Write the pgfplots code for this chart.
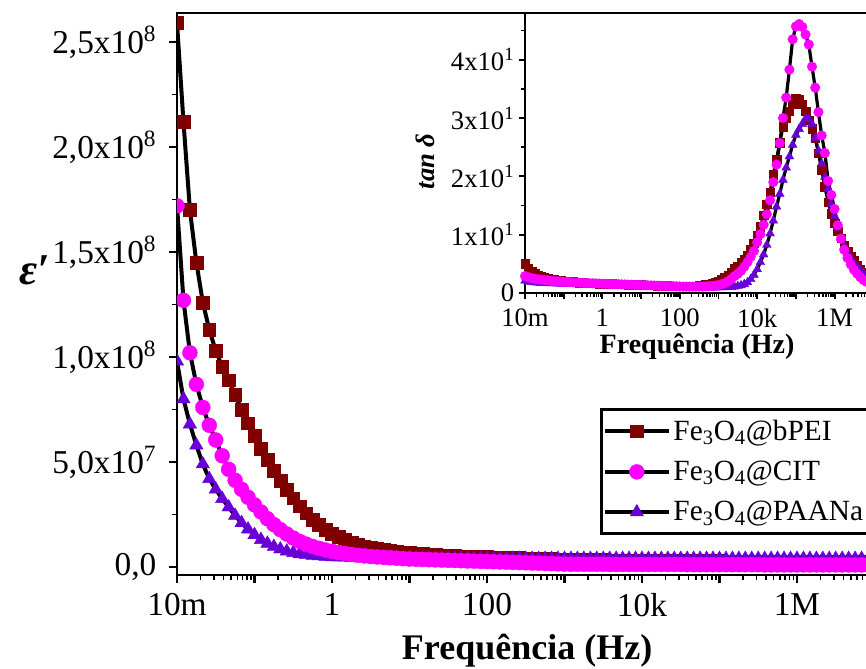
\documentclass[border=0pt]{standalone}
\usepackage{pgfplots}
\usepackage{pgfplotstable}
\pgfplotsset{compat=1.18}
\usepackage{fontspec}
\setmainfont{Liberation Serif}
\definecolor{cB}{RGB}{128,0,0}
\definecolor{cC}{RGB}{255,0,255}
\definecolor{cP}{RGB}{106,0,216}

\pgfplotstableread{
f eB eC eP tB tC tP
1.000e-2 2.59 1.72 0.98 5.0 2.9 2.1
1.212e-2 2.12 1.27 0.80 4.2 2.7 1.95
1.468e-2 1.70 1.02 0.68 3.7 2.55 1.85
1.778e-2 1.45 0.87 0.58 3.3 2.45 1.80
2.154e-2 1.26 0.76 0.49 3.0 2.35 1.76
2.610e-2 1.13 0.675 0.42 2.8 2.28 1.73
3.162e-2 1.03 0.605 0.37 2.65 2.22 1.70
3.831e-2 0.955 0.53 0.325 2.5 2.16 1.68
4.642e-2 0.89 0.465 0.285 2.4 2.10 1.66
5.623e-2 0.82 0.413 0.245 2.3 2.05 1.64
6.813e-2 0.75 0.37 0.21 2.2 2.00 1.62
8.254e-2 0.685 0.332 0.18 2.1 1.96 1.60
1.000e-1 0.625 0.296 0.153 2.05 1.92 1.58
1.212e-1 0.565 0.262 0.130 2.0 1.88 1.56
1.468e-1 0.51 0.23 0.112 1.95 1.85 1.55
1.778e-1 0.458 0.202 0.097 1.9 1.82 1.54
2.154e-1 0.412 0.178 0.085 1.85 1.79 1.53
2.610e-1 0.368 0.157 0.075 1.8 1.76 1.52
3.162e-1 0.328 0.138 0.068 1.75 1.73 1.51
3.831e-1 0.29 0.122 0.062 1.72 1.70 1.50
4.642e-1 0.256 0.109 0.058 1.70 1.68 1.49
5.623e-1 0.226 0.098 0.055 1.68 1.66 1.48
6.813e-1 0.200 0.089 0.052 1.66 1.64 1.47
8.254e-1 0.178 0.081 0.050 1.64 1.62 1.46
1.000e0 0.160 0.075 0.048 1.62 1.60 1.45
1.212e0 0.144 0.069 0.047 1.60 1.58 1.43
1.468e0 0.130 0.064 0.046 1.58 1.56 1.41
1.778e0 0.118 0.060 0.045 1.56 1.54 1.39
2.154e0 0.108 0.056 0.045 1.54 1.52 1.37
2.610e0 0.099 0.053 0.044 1.52 1.50 1.35
3.162e0 0.092 0.050 0.044 1.50 1.48 1.33
3.831e0 0.086 0.048 0.043 1.48 1.46 1.31
4.642e0 0.081 0.046 0.043 1.46 1.44 1.29
5.623e0 0.077 0.044 0.043 1.44 1.42 1.27
6.813e0 0.073 0.042 0.042 1.42 1.40 1.25
8.254e0 0.070 0.040 0.042 1.40 1.38 1.23
1.000e1 0.067 0.038 0.042 1.38 1.36 1.21
1.212e1 0.064 0.037 0.041 1.36 1.34 1.19
1.468e1 0.062 0.036 0.041 1.34 1.32 1.17
1.778e1 0.060 0.035 0.041 1.32 1.30 1.15
2.154e1 0.058 0.034 0.041 1.30 1.28 1.13
2.610e1 0.056 0.033 0.041 1.28 1.26 1.11
3.162e1 0.054 0.032 0.041 1.26 1.24 1.09
3.831e1 0.053 0.031 0.041 1.24 1.22 1.07
4.642e1 0.052 0.030 0.041 1.22 1.20 1.05
5.623e1 0.051 0.029 0.041 1.20 1.18 1.03
6.813e1 0.050 0.028 0.041 1.18 1.16 1.01
8.254e1 0.049 0.027 0.041 1.16 1.14 0.99
1.000e2 0.048 0.026 0.041 1.15 1.12 0.97
1.212e2 0.047 0.025 0.040 1.14 1.10 0.96
1.468e2 0.046 0.024 0.040 1.14 1.09 0.95
1.778e2 0.045 0.023 0.040 1.15 1.09 0.94
2.154e2 0.044 0.022 0.040 1.17 1.10 0.93
2.610e2 0.043 0.021 0.040 1.20 1.10 0.93
3.162e2 0.042 0.020 0.040 1.24 1.11 0.92
3.831e2 0.041 0.019 0.040 1.30 1.11 0.92
4.642e2 0.040 0.018 0.040 1.38 1.12 0.92
5.623e2 0.039 0.017 0.040 1.48 1.16 0.93
6.813e2 0.038 0.016 0.040 1.60 1.21 0.93
8.254e2 0.037 0.015 0.040 1.80 1.27 0.94
1.000e3 0.036 0.014 0.040 2.00 1.35 0.95
1.212e3 0.035 0.013 0.040 2.30 1.50 0.96
1.468e3 0.035 0.013 0.040 2.65 1.70 0.97
1.778e3 0.034 0.013 0.040 3.05 2.00 0.99
2.154e3 0.034 0.013 0.040 3.6 2.40 1.02
2.610e3 0.033 0.013 0.040 4.2 2.90 1.08
3.162e3 0.033 0.013 0.040 4.6 3.30 1.17
3.831e3 0.032 0.012 0.040 5.2 3.80 1.30
4.642e3 0.032 0.012 0.040 5.8 4.50 1.50
5.623e3 0.031 0.012 0.040 6.4 5.30 1.81
6.813e3 0.031 0.012 0.040 7.5 6.20 2.37
8.254e3 0.030 0.012 0.040 8.5 7.20 3.11
1.000e4 0.030 0.012 0.040 9.9 8.70 4.07
1.212e4 0.030 0.012 0.040 11.4 10.1 5.28
1.468e4 0.029 0.012 0.040 13.3 11.7 6.6
1.778e4 0.029 0.012 0.040 15.2 13.5 8.24
2.154e4 0.029 0.012 0.040 17.3 15.9 10.2
2.610e4 0.029 0.012 0.040 20.3 19.0 12.4
3.162e4 0.029 0.012 0.040 22.9 22.0 14.8
3.831e4 0.029 0.011 0.040 25.8 25.7 17.0
4.642e4 0.029 0.011 0.040 28.5 30.0 19.4
5.623e4 0.029 0.011 0.040 30.0 33.5 21.5
6.813e4 0.029 0.011 0.040 31.2 38.3 23.4
8.254e4 0.029 0.011 0.040 32.4 43.5 25.4
1.000e5 0.029 0.011 0.040 33.3 45.7 27.1
1.212e5 0.028 0.011 0.040 33.2 46.1 28.1
1.468e5 0.028 0.011 0.040 32.4 45.6 29.0
1.778e5 0.028 0.011 0.040 31.2 44.3 29.9
2.154e5 0.028 0.011 0.040 29.6 42.6 29.8
2.610e5 0.028 0.011 0.040 28.2 38.8 29.0
3.162e5 0.028 0.011 0.040 26.5 35.2 26.6
3.831e5 0.028 0.010 0.040 24.0 31.0 24.4
4.642e5 0.028 0.010 0.040 21.1 27.0 22.2
5.623e5 0.028 0.010 0.040 18.2 24.0 19.9
6.813e5 0.028 0.010 0.040 15.6 19.2 17.9
8.254e5 0.028 0.010 0.040 13.6 16.8 15.3
1.000e6 0.028 0.010 0.040 12.0 14.4 13.2
1.212e6 0.027 0.010 0.040 10.6 11.6 11.2
1.468e6 0.027 0.010 0.040 9.4 9.3 9.4
1.778e6 0.027 0.010 0.040 8.2 7.4 8.0
2.154e6 0.027 0.010 0.040 7.2 6.0 6.9
2.610e6 0.027 0.010 0.040 6.3 4.9 6.0
3.162e6 0.027 0.010 0.040 5.6 4.0 5.1
3.831e6 0.027 0.010 0.040 4.8 3.3 4.5
4.642e6 0.027 0.010 0.040 4.1 2.7 3.9
5.623e6 0.027 0.010 0.040 3.5 2.2 3.4
6.813e6 0.027 0.010 0.040 3.0 1.9 3.0
8.254e6 0.027 0.010 0.040 2.6 1.6 2.6
1.000e7 0.027 0.010 0.040 2.3 1.4 2.3
}\datatab

\pgfplotsset{
  minorlog/.style={
    minor xtick={2e-2,3e-2,4e-2,5e-2,6e-2,7e-2,8e-2,9e-2,
      2e-1,3e-1,4e-1,5e-1,6e-1,7e-1,8e-1,9e-1,
      2,3,4,5,6,7,8,9,
      20,30,40,50,60,70,80,90,
      200,300,400,500,600,700,800,900,
      2e3,3e3,4e3,5e3,6e3,7e3,8e3,9e3,
      2e4,3e4,4e4,5e4,6e4,7e4,8e4,9e4,
      2e5,3e5,4e5,5e5,6e5,7e5,8e5,9e5,
      2e6,3e6,4e6,5e6,6e6,7e6,8e6,9e6}
  }
}

\begin{document}
\begin{tikzpicture}
\path[use as bounding box] (-132.75pt,-69.75pt) rectangle (516.75pt,431.25pt);
\clip (-132.75pt,-69.75pt) rectangle (516.75pt,431.25pt);

\begin{axis}[
  at={(0pt,0pt)}, anchor=south west,
  scale only axis, width=523.1pt, height=421.5pt,
  xmode=log, xmin=1e-2, xmax=1e7,
  ymin=-0.038, ymax=2.638,
  clip marker paths=true,
  xtick={1e-2,1e-1,1,10,100,1e3,1e4,1e5,1e6,1e7},
  xticklabels={10m,,1,,100,,10k,,1M,},
  minorlog,
  ytick={0,0.5,1,1.5,2,2.5},
  yticklabels={{0,0},{5,0x10\textsuperscript{7}},{1,0x10\textsuperscript{8}},{1,5x10\textsuperscript{8}},{2,0x10\textsuperscript{8}},{2,5x10\textsuperscript{8}}},
  minor ytick={0.25,0.75,1.25,1.75,2.25},
  tick align=outside, xtick pos=left, ytick pos=left,
  major tick length=6pt, minor tick length=3.8pt,
  every major tick/.append style={line width=1.6pt, black},
  every minor tick/.append style={line width=1.2pt, black},
  axis line style={line width=2.2pt},
  ticklabel style={font=\fontsize{25}{30}\selectfont},
  xticklabel style={yshift=-4pt},
  yticklabel style={xshift=-6pt},
  xlabel={\textbf{Frequência (Hz)}},
  xlabel style={font=\fontsize{27}{32}\selectfont, at={(axis description cs:0.502,-0.151)}, anchor=base},
  ylabel={\textbf{\textit{ε′}}},
  ylabel style={font=\fontsize{33}{36}\selectfont, at={(axis description cs:-0.2036,0.543)}, anchor=center, rotate=-90},
  legend style={at={(0.6065,0.2972)}, anchor=north west, draw=black, line width=2.2pt, fill=white,
    font=\fontsize{22}{26}\selectfont, inner xsep=1pt, inner ysep=6pt, row sep=10pt},
  legend cell align=left,
  legend image code/.code={\draw[mark repeat=2,mark phase=2,#1] plot coordinates {(0pt,0pt) (24pt,0pt) (48pt,0pt)};},
]
\addplot[black, line width=3pt, mark=square*, mark size=4.8pt, mark options={draw=cB, fill=cB, line width=0.3pt}] table[x=f, y=eB] {\datatab};
\addlegendentry{Fe\textsubscript{3}O\textsubscript{4}@bPEI}
\addplot[forget plot, black, line width=3pt, mark=triangle*, mark size=5.8pt, mark options={draw=cP, fill=cP, line width=0.3pt}] table[x=f, y=eP] {\datatab};
\addplot[black, line width=3pt, mark=*, mark size=5.6pt, mark options={draw=cC, fill=cC, line width=0.3pt}] table[x=f, y=eC] {\datatab};
\addlegendentry{Fe\textsubscript{3}O\textsubscript{4}@CIT}
\addlegendimage{black, line width=3pt, mark=triangle*, mark size=5.8pt, mark options={draw=cP, fill=cP, line width=0.3pt}}
\addlegendentry{Fe\textsubscript{3}O\textsubscript{4}@PAANa}
\end{axis}

\begin{axis}[
  at={(261pt,211.5pt)}, anchor=south west,
  scale only axis, width=261.2pt, height=210pt,
  axis background/.style={fill=white},
  xmode=log, xmin=1e-2, xmax=1e7,
  ymin=0, ymax=48,
  xtick={1e-2,1e-1,1,10,100,1e3,1e4,1e5,1e6,1e7},
  xticklabels={10m,,1,,100,,10k,,1M,},
  minorlog,
  ytick={0,10,20,30,40},
  yticklabels={0,1x10\textsuperscript{1},2x10\textsuperscript{1},3x10\textsuperscript{1},4x10\textsuperscript{1}},
  minor ytick={5,15,25,35,45},
  tick align=outside, xtick pos=left, ytick pos=left,
  major tick length=4.5pt, minor tick length=2.8pt,
  every major tick/.append style={line width=1.4pt, black},
  every minor tick/.append style={line width=1.1pt, black},
  axis line style={line width=2.2pt},
  ticklabel style={font=\fontsize{20}{24}\selectfont},
  xticklabel style={yshift=-4pt},
  xlabel={\textbf{Frequência (Hz)}},
  xlabel style={font=\fontsize{21}{25}\selectfont, at={(axis description cs:0.494,-0.216)}, anchor=base},
  ylabel={\textbf{\textit{tan δ}}},
  ylabel style={font=\fontsize{20}{24}\selectfont, at={(axis description cs:-0.287,0.47)}, anchor=center},
]
\addplot[black, line width=2.4pt, mark=square*, mark size=3.2pt, mark options={draw=cB, fill=cB, line width=0.3pt}] table[x=f, y=tB] {\datatab};
\addplot[black, line width=2.4pt, mark=triangle*, mark size=3.8pt, mark options={draw=cP, fill=cP, line width=0.3pt}] table[x=f, y=tP] {\datatab};
\addplot[black, line width=2.4pt, mark=*, mark size=3.6pt, mark options={draw=cC, fill=cC, line width=0.3pt}] table[x=f, y=tC] {\datatab};
\end{axis}
\end{tikzpicture}
\end{document}
